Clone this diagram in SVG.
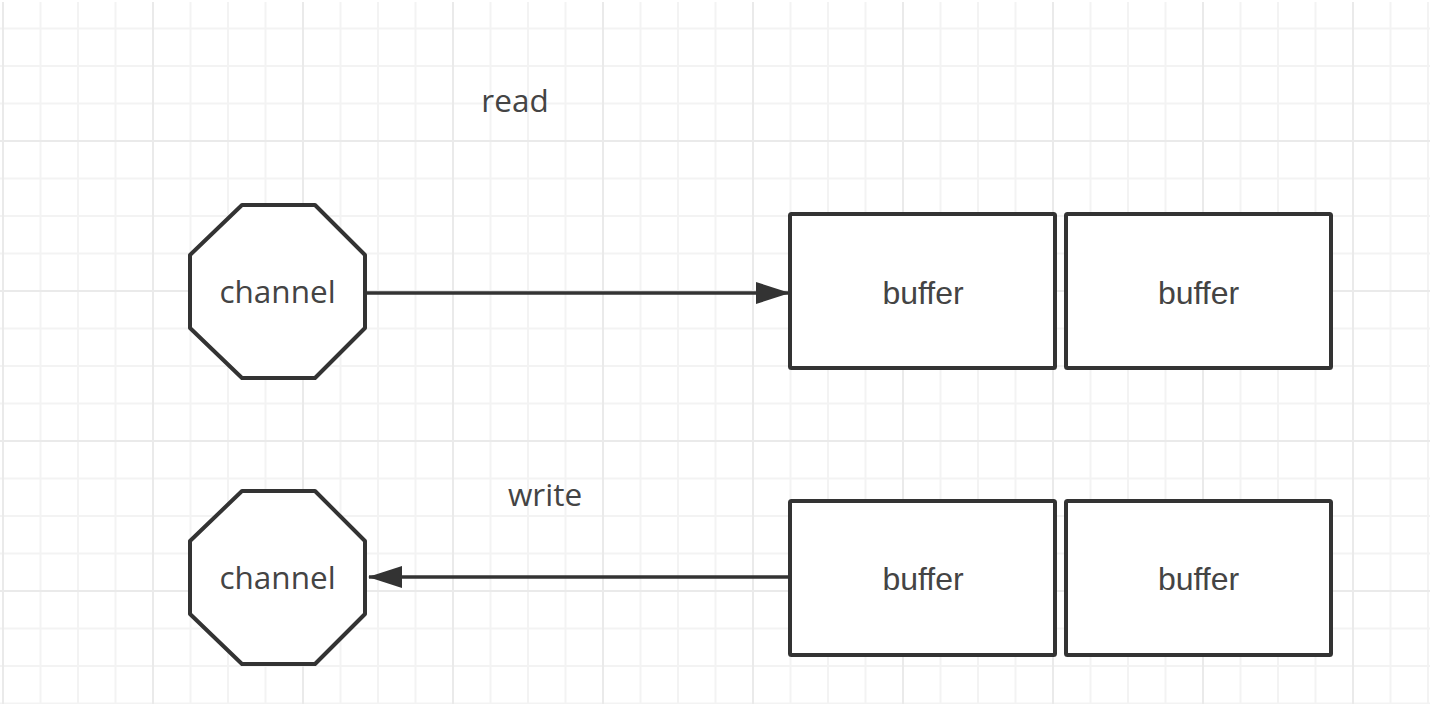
<svg xmlns="http://www.w3.org/2000/svg" width="1430" height="704" viewBox="0 0 1430 704">
  <style>
    .shape { fill: #ffffff; stroke: #333333; stroke-width: 4; stroke-linejoin: round; }
    .lbl { font-family: "Open Sans", "Noto Sans", sans-serif; font-size: 31.5px; fill: #444444; text-anchor: middle; }
    .blbl { font-family: "Liberation Sans", Arial, sans-serif; font-size: 32px; fill: #444444; text-anchor: middle; }
    .edge { fill: none; stroke: #333333; stroke-width: 3.5; }
    .minor { stroke: #f3f3f3; stroke-width: 2; }
    .major { stroke: #eaeaea; stroke-width: 2; }
  </style>
  <defs>
    <pattern id="grid" patternUnits="userSpaceOnUse" x="-17" y="-29" width="150" height="150">
      <line class="minor" x1="57.5" y1="0" x2="57.5" y2="150"/>
      <line class="minor" x1="95" y1="0" x2="95" y2="150"/>
      <line class="minor" x1="132.5" y1="0" x2="132.5" y2="150"/>
      <line class="minor" x1="0" y1="57.5" x2="150" y2="57.5"/>
      <line class="minor" x1="0" y1="95" x2="150" y2="95"/>
      <line class="minor" x1="0" y1="132.5" x2="150" y2="132.5"/>
      <line class="major" x1="20" y1="0" x2="20" y2="150"/>
      <line class="major" x1="0" y1="20" x2="150" y2="20"/>
    </pattern>
    <marker id="arrow" markerUnits="userSpaceOnUse" markerWidth="34" markerHeight="24" refX="33" refY="12" orient="auto">
      <path d="M0,1 L34,12 L0,23 Z" fill="#333333"/>
    </marker>
  </defs>
  <rect x="0" y="0" width="1430" height="704" fill="#ffffff"/>
  <rect x="0" y="2" width="1430" height="702" fill="url(#grid)"/>

  <g id="label-read"><text class="lbl" x="515" y="112">read</text></g>
  <g id="label-write"><text class="lbl" x="545" y="506">write</text></g>

  <g id="connectors">
    <line class="edge" x1="366" y1="293" x2="789" y2="293" marker-end="url(#arrow)"/>
    <line class="edge" x1="790" y1="577" x2="369" y2="577" marker-end="url(#arrow)"/>
  </g>

  <g id="channel-read">
    <polygon class="shape" points="242,205 315,205 365,255 365,328 315,378 242,378 190,328 190,255"/>
    <text class="lbl" x="277.5" y="303">channel</text>
  </g>
  <g id="channel-write">
    <polygon class="shape" points="242,491 315,491 365,541 365,614 315,664 242,664 190,614 190,541"/>
    <text class="lbl" x="277.5" y="589">channel</text>
  </g>

  <g id="buffer-read-1">
    <rect class="shape" x="790" y="214" width="265" height="154" rx="1.5"/>
    <text class="blbl" x="923" y="304">buffer</text>
  </g>
  <g id="buffer-read-2">
    <rect class="shape" x="1066" y="214" width="265" height="154" rx="1.5"/>
    <text class="blbl" x="1198.5" y="304">buffer</text>
  </g>
  <g id="buffer-write-1">
    <rect class="shape" x="790" y="501" width="265" height="154" rx="1.5"/>
    <text class="blbl" x="923" y="590">buffer</text>
  </g>
  <g id="buffer-write-2">
    <rect class="shape" x="1066" y="501" width="265" height="154" rx="1.5"/>
    <text class="blbl" x="1198.5" y="590">buffer</text>
  </g>
</svg>
